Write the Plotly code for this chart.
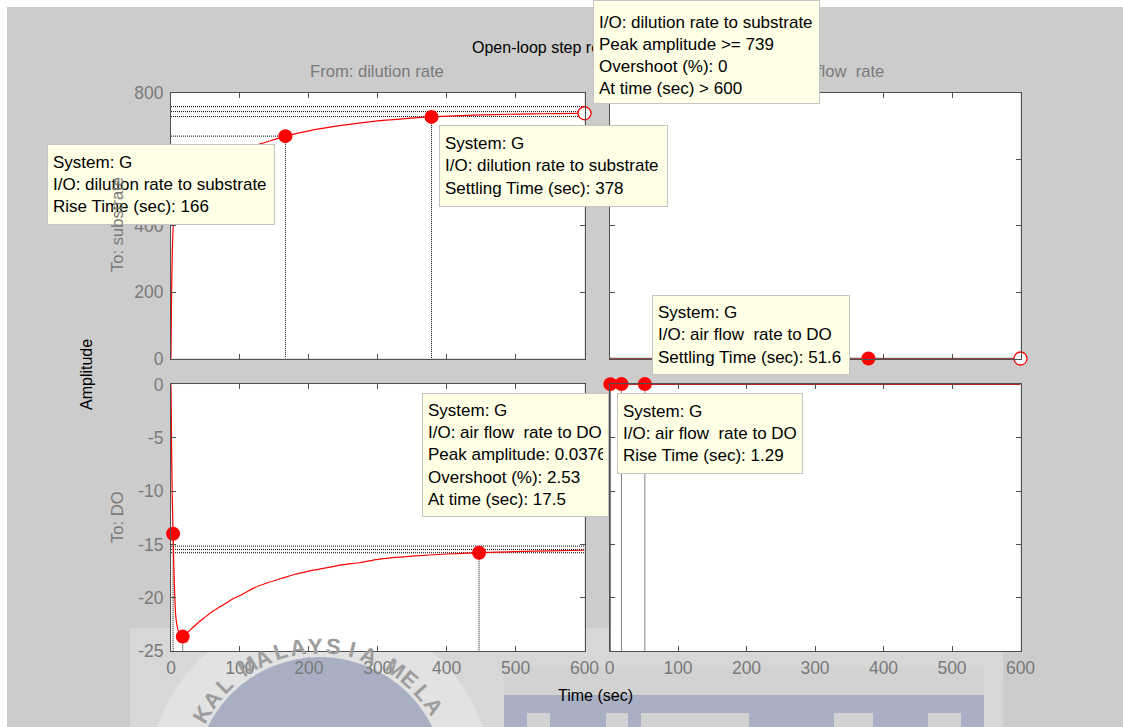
import math
import plotly.graph_objects as go

W, H = 1123, 727

# ---------------- data ----------------
# From: dilution rate  -> To: substrate
t_sub = [0, 0.5, 1, 2, 3, 4, 6, 10, 15, 25, 40, 60, 80, 100, 135, 166, 200, 250, 300, 340, 378, 410, 450, 490, 525, 560, 600]
y_sub = [0, 120, 220, 330, 390, 425, 460, 490, 510, 535, 560, 588, 610, 628, 650, 670, 686, 703, 716, 723, 728, 731, 734, 736, 737, 738, 739]
# From: dilution rate  -> To: DO
t_do1 = [0, 0.5, 1, 2, 3, 4, 5, 7, 10, 13, 17, 20, 25, 30, 40, 50, 60, 70, 80, 90, 100, 120, 140, 160, 180,
         200, 225, 250, 275, 300, 350, 400, 447, 500, 550, 600]
y_do1 = [0, -3, -7, -11, -14, -16.8, -19.0, -21.8, -23.0, -23.5, -23.65, -23.5, -23.2, -22.9, -22.3, -21.8,
         -21.3, -20.9, -20.5, -20.1, -19.8, -19.1, -18.6, -18.2, -17.8, -17.5, -17.2, -16.9, -16.7, -16.4,
         -16.1, -15.9, -15.78, -15.68, -15.6, -15.55]
# From: air flow rate -> To: substrate
t_sub2 = [0, 100, 200, 300, 400, 500, 600]
y_sub2 = [0, 0, 0, 0, 0, 0, 0]
# From: air flow rate -> To: DO
t_do2 = [0, 1.29, 5, 17.5, 30, 51.6, 100, 600]
y_do2 = [0, 0.0330, 0.0360, 0.0376, 0.0372, 0.0367, 0.0367, 0.0367]

# characteristic points (filled markers) and peak (open marker)
tl_pts_t = [166, 378]
tl_pts_y = [670, 728]
tl_peak = (600, 739)
tl_hlines = [759, 744, 729]
tl_rise_level = 670

tr_pts_t = [378]
tr_pts_y = [0]
tr_peak = (600, 0)

bl_pts_t = [3, 17, 447]
bl_pts_y = [-14, -23.65, -15.78]
bl_hlines = [-15.16, -15.47, -15.78]

br_pts_t = [1.29, 17.5, 51.6]
br_pts_y = [0.033, 0.0376, 0.0367]

x_ticks = [0, 100, 200, 300, 400, 500, 600]
sub_ticks = [0, 200, 400, 600, 800]
do_ticks = [-25, -20, -15, -10, -5, 0]
do_tick_text = ["-25", "-20", "-15", "-10", "-5", "0"]

# ---------------- helpers ----------------
def px(x):
    return x / W

def py(y):
    return 1 - y / H

FONT = "Liberation Sans, Arial, sans-serif"
GRAYTXT = "#7a7a7a"
AXC = "#505050"
RED = "#ff0000"
DOT = "1px,1px"

fig = go.Figure()

def add_panel(xa, ya, t, y, pts_t, pts_y, peak, extra_lines, lines_on_top=False):
    def ref_lines():
        for (xs, ys) in extra_lines:
            fig.add_trace(go.Scatter(x=xs, y=ys, xaxis=xa, yaxis=ya, mode="lines",
                                     line=dict(color="black", width=1, dash=DOT),
                                     hoverinfo="skip", showlegend=False, cliponaxis=False))
    if not lines_on_top:
        ref_lines()
    fig.add_trace(go.Scatter(x=t, y=y, xaxis=xa, yaxis=ya, mode="lines",
                             line=dict(color=RED, width=1.2, shape="spline", smoothing=0.6),
                             showlegend=False, cliponaxis=False))
    if lines_on_top:
        ref_lines()
    fig.add_trace(go.Scatter(x=pts_t, y=pts_y, xaxis=xa, yaxis=ya, mode="markers",
                             marker=dict(color=RED, size=14, line=dict(width=0)),
                             showlegend=False, cliponaxis=False))
    if peak is not None:
        fig.add_trace(go.Scatter(x=[peak[0]], y=[peak[1]], xaxis=xa, yaxis=ya, mode="markers",
                                 marker=dict(color="white", size=13, line=dict(color=RED, width=1.3)),
                                 showlegend=False, cliponaxis=False))

tl_lines = [([0, 600], [h, h]) for h in tl_hlines]
tl_lines.append(([0, tl_pts_t[0]], [tl_rise_level, tl_rise_level]))
for tt, yy in zip(tl_pts_t, tl_pts_y):
    tl_lines.append(([tt, tt], [yy, 0]))
add_panel("x", "y", t_sub, y_sub, tl_pts_t, tl_pts_y, tl_peak, tl_lines)

tr_lines = [([0, 600], [0, 0]), ([0, 600], [0.8, 0.8])]
add_panel("x2", "y2", t_sub2, y_sub2, tr_pts_t, tr_pts_y, tr_peak, tr_lines, lines_on_top=True)

bl_lines = [([0, 600], [h, h]) for h in bl_hlines]
for tt, yy in zip(bl_pts_t, bl_pts_y):
    bl_lines.append(([tt, tt], [yy, -25]))
add_panel("x3", "y3", t_do1, y_do1, bl_pts_t, bl_pts_y, None, bl_lines)

br_lines = [([0, 600], [0.0376, 0.0376])]
for tt in br_pts_t:
    br_lines.append(([tt, tt], [0, -25]))
br_lines.append(([0.3, 0.3], [0, -25]))
add_panel("x4", "y4", t_do2, y_do2, br_pts_t, br_pts_y, None, br_lines, lines_on_top=True)

def xax(dom, labels, anchor):
    return dict(domain=dom, range=[0, 600], tickvals=x_ticks, showticklabels=labels,
                ticks="inside", ticklen=5, tickcolor=AXC, showline=True, linecolor=AXC,
                linewidth=1, mirror="ticks", showgrid=False, zeroline=False,
                tickfont=dict(family=FONT, size=17.5, color=GRAYTXT), anchor=anchor,
                fixedrange=True, automargin=False, ticklabelstandoff=1)

def yax(dom, rng, tv, labels, anchor, tt=None):
    d = dict(domain=dom, range=rng, tickvals=tv, showticklabels=labels,
             ticks="inside", ticklen=5, tickcolor=AXC, showline=True, linecolor=AXC,
             linewidth=1, mirror="ticks", showgrid=False, zeroline=False,
             tickfont=dict(family=FONT, size=17.5, color=GRAYTXT), anchor=anchor,
             fixedrange=True, automargin=False, ticklabelstandoff=3)
    if tt is not None:
        d["ticktext"] = tt
    return d

xl = [px(171), px(584.5)]
xr = [px(609.5), px(1020.5)]
yt = [py(358.5), py(93)]
yb = [py(651), py(384.5)]
yb_top = py(384.5) + 0.04 / 25 * (266.5 / H)   # tiny headroom so the DO peak (0.0376) stays in range

# ---------------- watermark shapes ----------------
shapes = []
shapes.append(dict(type="rect", xref="paper", yref="paper", x0=px(130), x1=px(1003),
                   y0=py(727), y1=py(628), fillcolor="rgba(255,255,255,0.22)", line=dict(width=0),
                   layer="below"))
cx, cy, r_ring, r_disk = 320, 782, 172, 125
shapes.append(dict(type="circle", xref="paper", yref="paper", x0=px(cx - r_ring), x1=px(cx + r_ring),
                   y0=py(cy + r_ring), y1=py(cy - r_ring), fillcolor="rgba(255,255,255,0.28)",
                   line=dict(width=0), layer="below"))
shapes.append(dict(type="circle", xref="paper", yref="paper", x0=px(cx - r_disk), x1=px(cx + r_disk),
                   y0=py(cy + r_disk), y1=py(cy - r_disk), fillcolor="#a9afc3",
                   line=dict(width=0), layer="below"))
shapes.append(dict(type="rect", xref="paper", yref="paper", x0=px(504), x1=px(984),
                   y0=py(695), y1=py(667), fillcolor="rgba(200,200,200,0.35)", line=dict(width=0),
                   layer="below"))
shapes.append(dict(type="rect", xref="paper", yref="paper", x0=px(504), x1=px(984),
                   y0=py(727), y1=py(695), fillcolor="#a9b0c4", line=dict(width=0),
                   layer="below"))
for a, b in [(527, 550), (606, 628), (641, 749), (834, 873), (928, 961)]:
    shapes.append(dict(type="rect", xref="paper", yref="paper", x0=px(a), x1=px(b),
                       y0=py(727), y1=py(713), fillcolor="#d2d2d2", line=dict(width=0),
                       layer="below"))
shapes.append(dict(type="rect", xref="paper", yref="paper", x0=0, x1=1, y0=py(7), y1=1,
                   fillcolor="white", line=dict(width=0), layer="below"))
shapes.append(dict(type="rect", xref="paper", yref="paper", x0=0, x1=px(7), y0=0, y1=1,
                   fillcolor="white", line=dict(width=0), layer="below"))

# ---------------- annotations ----------------
ann = []
lab = dict(xref="paper", yref="paper", showarrow=False, xanchor="center", yanchor="middle")

wm_text = "KAL MALAYSIA MELAKA"
theta = 150.0
for ch in wm_text:
    if ch == " ":
        theta -= 5.0
        continue
    rr = 136
    x = cx + rr * math.cos(math.radians(theta))
    y = cy - rr * math.sin(math.radians(theta))
    if y < 720:
        ann.append(dict(text="<b>%s</b>" % ch, x=px(x), y=py(y), textangle=90 - theta,
                        font=dict(family=FONT, size=22, color="#9d9d9d"), **lab))
    theta -= 7.6

ann.append(dict(text="Open-loop step response", x=px(470), y=py(48), xref="paper", yref="paper",
                xanchor="left", yanchor="middle", showarrow=False,
                font=dict(family=FONT, size=16, color="black")))
ann.append(dict(text="From: dilution rate", x=px(377), y=py(72), font=dict(family=FONT, size=16.6, color=GRAYTXT), **lab))
ann.append(dict(text="From: air flow\u00a0 rate", x=px(815), y=py(72), font=dict(family=FONT, size=16.6, color=GRAYTXT), **lab))

def tip(lines, x0, y0, x1, y1, valign="middle", size=17):
    bw, pad = 1, 5
    return dict(text="<br>".join(lines), x=px(x0), y=py(y0), xref="paper", yref="paper",
                xanchor="left", yanchor="top", showarrow=False, align="left", valign=valign,
                width=(x1 - x0) - 2 * (bw + pad), height=(y1 - y0) - 2 * (bw + pad),
                bgcolor="#ffffe6", bordercolor="#c4c4c4", borderwidth=bw, borderpad=pad,
                font=dict(family=FONT, size=size, color="black"))

ann.append(tip(["System: G", "I/O: dilution rate to substrate", "Rise Time (sec): 166"], 47, 144, 275, 225))
ann.append(tip(["System: G", "I/O: dilution rate to substrate", "Settling Time (sec): 378"], 439, 125, 668, 207))
ann.append(tip(["I/O: dilution rate to substrate", "Peak amplitude >= 739", "Overshoot (%): 0",
                "At time (sec) > 600"], 593, 0, 820, 104, valign="bottom"))
ann.append(tip(["System: G", "I/O: air flow\u00a0 rate to DO", "Settling Time (sec): 51.6"], 652, 295, 850, 375))
ann.append(tip(["System: G", "I/O: air flow\u00a0 rate to DO", "Peak amplitude: 0.0376",
                "Overshoot (%): 2.53", "At time (sec): 17.5"], 422, 393, 609, 517))
ann.append(tip(["System: G", "I/O: air flow\u00a0 rate to DO", "Rise Time (sec): 1.29"], 617, 393, 803, 474))

ann.append(dict(text="To: substrate", x=px(117), y=py(225), textangle=-90, font=dict(family=FONT, size=16.6, color=GRAYTXT), **lab))
ann.append(dict(text="To: DO", x=px(117), y=py(517), textangle=-90, font=dict(family=FONT, size=16.6, color=GRAYTXT), **lab))
ann.append(dict(text="Amplitude", x=px(86), y=py(375), textangle=-90, font=dict(family=FONT, size=16, color="black"), **lab))
ann.append(dict(text="Time (sec)", x=px(595), y=py(695), font=dict(family=FONT, size=16, color="black"), **lab))

fig.update_layout(
    width=W, height=H, autosize=False,
    margin=dict(l=0, r=0, t=0, b=0, pad=0, autoexpand=False),
    paper_bgcolor="#cccccc", plot_bgcolor="white",
    showlegend=False,
    xaxis=xax(xl, False, "y"), yaxis=yax(yt, [0, 800], sub_ticks, True, "x"),
    xaxis2=xax(xr, False, "y2"), yaxis2=yax(yt, [0, 800], sub_ticks, False, "x2"),
    xaxis3=xax(xl, True, "y3"), yaxis3=yax([yb[0], yb_top], [-25, 0.04], do_ticks, True, "x3", do_tick_text),
    xaxis4=xax(xr, True, "y4"), yaxis4=yax([yb[0], yb_top], [-25, 0.04], do_ticks, False, "x4", do_tick_text),
    shapes=shapes, annotations=ann,
    font=dict(family=FONT),
)

fig.write_html("out.html", config={"responsive": False, "displayModeBar": False},
               post_script="document.body.style.margin='0';document.body.style.overflow='hidden';")
